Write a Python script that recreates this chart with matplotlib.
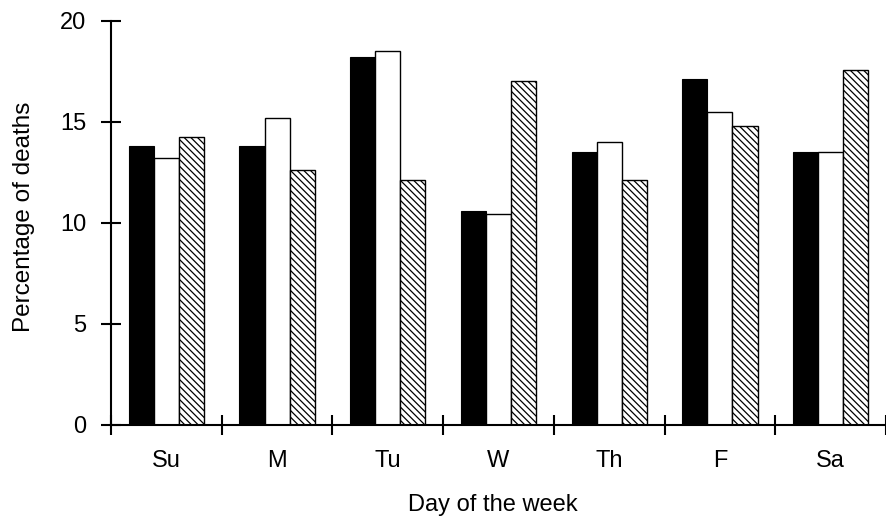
import matplotlib
matplotlib.use("Agg")
import matplotlib.pyplot as plt
import numpy as np

days = ["Su", "M", "Tu", "W", "Th", "F", "Sa"]
series_black = [13.8, 13.8, 18.2, 10.6, 13.5, 17.1, 13.5]
series_white = [13.2, 15.2, 18.5, 10.45, 14.0, 15.5, 13.5]
series_hatch = [14.25, 12.6, 12.1, 17.0, 12.1, 14.8, 17.55]
yticks = [0, 5, 10, 15, 20]

plt.rcParams['font.family'] = ['Liberation Sans', 'DejaVu Sans']
plt.rcParams['hatch.linewidth'] = 0.9

fig = plt.figure(figsize=(8.86, 5.19), dpi=100)
ax = fig.add_axes([111/886, (519-424.7)/519, 775/886, (424.7-20.7)/519])

x = np.arange(len(days))
w = 0.227
ax.bar(x - w, series_black, w, color='black', edgecolor='black', linewidth=0.8)
ax.bar(x, series_white, w, color='white', edgecolor='black', linewidth=1.0)
ax.bar(x + w, series_hatch, w, color='white', edgecolor='black', linewidth=1.0,
       hatch='\\\\\\\\\\')

ax.set_xlim(-0.5, 6.5 - 3/111.2)
ax.set_ylim(0, 20)
ax.set_yticks(yticks)
ax.set_xticks(np.arange(-0.5, 7, 1))
ax.set_xticklabels([])
ax.set_xticks(x, minor=True)
ax.set_xticklabels(days, minor=True)
ax.tick_params(axis='x', which='minor', length=0, pad=18, labelsize=17)
ax.tick_params(axis='x', which='major', direction='inout', length=14, width=1.5)
ax.tick_params(axis='y', direction='inout', length=14, width=1.5, labelsize=17, pad=10.6)

for s in ['top', 'right']:
    ax.spines[s].set_visible(False)
for s in ['left', 'bottom']:
    ax.spines[s].set_linewidth(1.5)

ax.set_ylabel("Percentage of deaths", fontsize=17.5, labelpad=18, y=0.515)
ax.set_xlabel("Day of the week", fontsize=17, labelpad=16, x=0.4933)

fig.savefig("out.png", dpi=100)
